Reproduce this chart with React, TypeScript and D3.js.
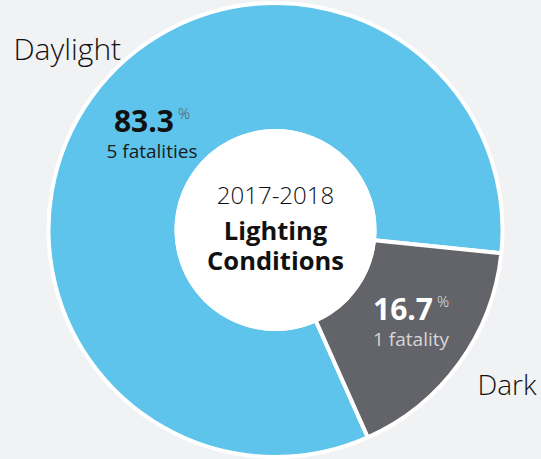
import React from 'react';
import * as d3 from 'd3';

const categories = ['Daylight', 'Dark'];
const shares = [83.3, 16.7];
const fatalities = ['5 fatalities', '1 fatality'];
const titleYear = '2017-2018';
const titleLines = ['Lighting', 'Conditions'];

const COLORS = ['#5EC4EC', '#636469'];
const NUM_COLORS = ['#111111', '#ffffff'];
const SUB_COLORS = ['#1a1a1a', '#d6d6d8'];

const W = 541;
const H = 459;
const cx = 275.5;
const cy = 230;
const outerR = 227;
const innerR = 99;
const FONT = "'Open Sans', 'Noto Sans', sans-serif";

export default function App() {
  const data = categories.map((c, i) => ({ name: c, value: shares[i], sub: fatalities[i], i }));

  const start = (156 * Math.PI) / 180;
  const pie = d3.pie<any>().value(d => d.value).sort(null).startAngle(start).endAngle(start + 2 * Math.PI);
  const arcs = pie(data);

  const arc = d3.arc<any>().innerRadius(innerR).outerRadius(outerR);
  const labelArc = d3.arc<any>().innerRadius(160).outerRadius(160);

  return (
    <svg
      width={W}
      height={H}
      viewBox={`0 0 ${W} ${H}`}
      style={{ position: 'absolute', top: 0, left: 0, display: 'block', background: '#F1F2F4' }}
    >
      <rect x={0} y={0} width={W} height={H} fill="#F1F2F4" />
      <g transform={`translate(${cx},${cy})`}>
        {arcs.map((a, i) => (
          <path key={i} d={arc(a) as string} fill={COLORS[i]} stroke="#fff" strokeWidth={4} strokeLinejoin="round" />
        ))}
        <circle r={101} fill="#fff" />

        {arcs.map((a, i) => {
          const [lx, ly] = labelArc.centroid(a);
          return (
            <g key={'l' + i} transform={`translate(${lx + 6},${ly})`} fontFamily={FONT}>
              <text textAnchor="middle" y={-4} fill={NUM_COLORS[i]}>
                <tspan fontSize={30} fontWeight={700}>{a.data.value.toFixed(1)}</tspan>
                <tspan fontSize={15} fontWeight={300} dx={4} dy={-13} fill={i === 0 ? '#555' : '#e0e0e0'}>%</tspan>
              </text>
              <text textAnchor="middle" y={22} fontSize={19} fontWeight={400} fill={SUB_COLORS[i]}>
                {a.data.sub}
              </text>
            </g>
          );
        })}

        <text textAnchor="middle" y={-26} fontFamily={FONT} fontSize={24} fontWeight={300} fill="#111">
          {titleYear}
        </text>
        {titleLines.map((t, i) => (
          <text key={t} textAnchor="middle" y={10 + i * 30} fontFamily={FONT} fontSize={25.5} fontWeight={700} fill="#111">
            {t}
          </text>
        ))}

        <text x={-outerR * 0.68} y={-outerR * 0.75} textAnchor="end" fontFamily={FONT} fontSize={30} fontWeight={300} fill="#111">
          {categories[0]}
        </text>
        <text x={outerR * 0.89} y={outerR * 0.725} textAnchor="start" fontFamily={FONT} fontSize={28} fontWeight={300} fill="#111">
          {categories[1]}
        </text>
      </g>
    </svg>
  );
}
